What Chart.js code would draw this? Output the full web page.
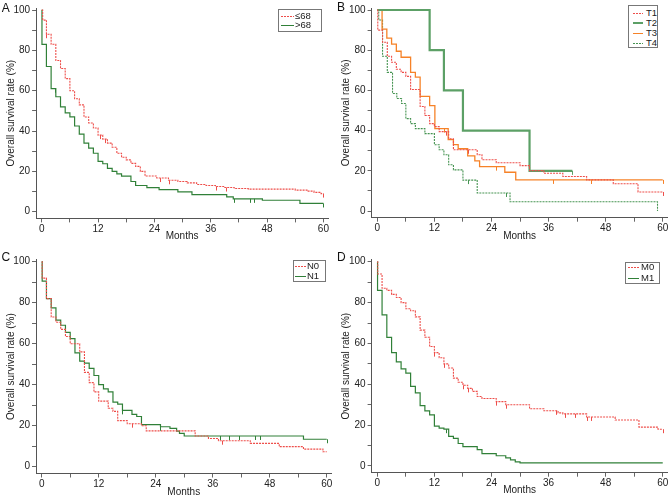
<!DOCTYPE html>
<html><head><meta charset="utf-8">
<script src="https://cdn.jsdelivr.net/npm/chart.js@4/dist/chart.umd.min.js"></script>
<style>
html,body{margin:0;padding:0;background:#fff;overflow:hidden;width:669px;height:496px;position:relative;}
canvas{position:absolute;}
.letter{position:absolute;font:12px "Liberation Sans",Arial,sans-serif;color:#111;line-height:12px;}
.lg{position:absolute;border:1px solid #777;background:#fff;font:9.5px "Liberation Sans",Arial,sans-serif;color:#222;box-sizing:border-box;}
.lg .smp{position:absolute;height:1px;}
.lg .txt{position:absolute;line-height:10px;white-space:nowrap;}
</style></head><body>
<script>
// ---------- axis ticks ----------
const monthTicks = [0,6,12,18,24,30,36,42,48,54,60];
const monthLabels = ['0','','12','','24','','36','','48','','60'];
const rateTicks = [0,10,20,30,40,50,60,70,80,90,100];
const rateLabels = ['0','','20','','40','','60','','80','','100'];
const xTitle = 'Months';
const yTitle = 'Overall survival rate (%)';
const panelLetters = ['A','B','C','D'];

// ---------- Panel A: age ----------
const A_names = ['≤68','>68'];
const A_le68_t = [0,0.2,1,2,3,4,5,6,7,8,9,10,11,12,13,14,15,16,17,18,19,20,21,22,24.5,27,29,31,33,35,37,39,41,44,54,56.5,58,59.5,60];
const A_le68_s = [100,95,88,83,75,71,66,60,56,53,47,44,41.5,38,36,34,32,29,27,25.7,24,22.5,20,17.7,16.7,15.6,15,14.3,13.5,13,12.5,12,11.5,11.2,10.7,10.2,9.6,9,9];
const A_le68_c = [1,12.5,13.5,25.2,27.2,37.1,39.3,60];
const A_gt68_t = [0,0.05,1,2,3,4,5,6,7,8,9,10,11,12,13,14,15,16,17,19,20,22.4,25,29,32,39.4,40.8,47,55,60];
const A_gt68_s = [100,83,72,61,57,52,49,47,42.5,38.5,34,31.5,29,25,23.8,21.5,20,18.8,17.7,15,13,12,11,9.8,8.5,7.4,6.4,5.7,4.1,4.1];
const A_gt68_c = [2.8,41,44.4,45.3,60];

// ---------- Panel B: T stage ----------
const B_names = ['T1','T2','T3','T4'];
const B_T1_t = [0,0.1,1.1,2.1,3,4,5,6,7,9,10,11,12,13,15,16,21,22,25,30,32,35,39,44,49.6,54.8,60];
const B_T1_s = [100,90,84,77,74,70.5,69,67,60.5,52,47.5,43.5,42,39.5,36,30.5,28,25.5,24,22.6,20.1,18.8,17.2,15.5,13.6,9.5,9.5];
const B_T1_c = [14.5,19,45,60];
const B_T2_t = [0,11,14,18,32,41];
const B_T2_s = [100,80,60,40,20,20];
const B_T2_c = [41];
const B_T3_t = [0,1,2,3,4,5,7,8,9,11,12.1,14.9,16,17,19,20.5,21.5,26.8,29.1,60];
const B_T3_s = [100,90.5,86,83,79.5,76.5,69,66.6,57,52.4,41,35.5,33,31,27.5,25,22.1,19.3,15.5,15.5];
const B_T3_c = [14,25,37,45,60];
const B_T4_t = [0,0.3,1.1,2.1,3.2,4.1,5.1,6,7,8,10,12,13,14,15,16,18,21,27.9,58.9];
const B_T4_s = [100,95,77,69,58.5,56,53.5,46,43.5,41,38.5,33,30.5,28,23,20.5,15.4,9,4.6,0];
const B_T4_c = [19,27];

// ---------- Panel C: N stage ----------
const C_names = ['N0','N1'];
const C_N0_t = [0,0.1,1,2,3,4,5,6,8,9,10,11,12,14,15,16,18,21,22,32.3,35.1,37.2,43.9,50,55.1,59.2,60];
const C_N0_s = [100,92,82,73,70.5,67,63.5,60,56,46,41,36.5,32,28.5,27,22.5,21,20,17.5,15,13.8,12.7,11.4,9.8,8.6,7.3,7.3];
const C_N0_c = [19,38];
const C_N1_t = [0,0.1,1,2,3,4,5,6,7,8,9,10,11,12,13,14,15,16,17,19,20,21,25,27,28.4,29,30,55.1,60];
const C_N1_s = [100,90.5,82,77.5,71.5,69,65.5,62.5,55.5,51.5,50.5,48,44.5,40,38,36.5,31.5,30.5,27.5,25.5,24.5,20.5,19.5,18.7,17.4,16.3,15,13.4,13.4];
const C_N1_c = [17,25,37.5,39.5,41.5,45,46,60];

// ---------- Panel D: M stage ----------
const D_names = ['M0','M1'];
const D_M0_t = [0,0.1,1,2,3,4,5,6,7,8,9,10,11,12,13,14,15,16,17,18,19,20,21,22,25,27,32,35,38,39,44,50,55,59,60];
const D_M0_s = [100,94,87,86,84,82.5,80,77,76,73,66.5,63,58.5,55.5,53,50,48,43,41,39.5,38,36.5,34,33,31.5,30,28,27,26,25.5,24,22.5,19,18,18];
const D_M0_c = [12,14,18,19,25,27,37.5,39.5,41.5,44,45,60];
const D_M1_t = [0,0.05,1,2,3,4,5,6,7,8,9,10,11,12,13,14,15,16,17,18,21,22,25,27,28,29,30,60];
const D_M1_s = [100,86,74,63,55.5,51,47.5,45.5,39,35.8,29.5,27,25,19.5,18.5,18,14.5,13.5,11,9.5,8,6,5,4,3,2,1.5,1.5];
const D_M1_c = [14.5];

// ---------- styles ----------
const RED = 'rgb(238,78,74)', GREEN = 'rgb(48,128,56)', GREEN2 = 'rgb(92,160,102)', ORANGE = 'rgb(246,130,40)', GREEN3 = 'rgb(70,148,82)';
const DOT = [2,1];
const FONT = {family:'"Liberation Sans", Arial, sans-serif', size:10};

function series(label, t, s, c, color, dash, width){
  return {label, t, s, c, color, dash, width};
}

const panels = [
  {letter:panelLetters[0], left:0, top:0, w:335, h:248, area:{l:36.1, r:328.1, t:6.3, b:218.4}, titlePad:5.3,
   letterPos:[1.7,1.6], legend:{x:278, y:9, w:44, h:23, sx:281, sw:13, tx:295, rows:[15.5,25]},
   series:[series(A_names[0],A_le68_t,A_le68_s,A_le68_c,RED,DOT,1.1), series(A_names[1],A_gt68_t,A_gt68_s,A_gt68_c,GREEN,[],1.2)]},
  {letter:panelLetters[1], left:335, top:0, w:345, h:248, area:{l:36.6, r:332.5, t:5.3, b:217.7}, titlePad:5.3,
   letterPos:[337,1.2], legend:{x:628, y:5, w:30, h:43, sx:632.5, sw:10.5, tx:646, rows:[13.3,23,33,43]},
   series:[series(B_names[0],B_T1_t,B_T1_s,B_T1_c,RED,DOT,1.1), series(B_names[1],B_T2_t,B_T2_s,B_T2_c,GREEN2,[],2.2),
           series(B_names[2],B_T3_t,B_T3_s,B_T3_c,ORANGE,[],1.3), series(B_names[3],B_T4_t,B_T4_s,B_T4_c,GREEN3,DOT,1.1)]},
  {letter:panelLetters[2], left:0, top:248, w:335, h:256, area:{l:36, r:331.5, t:11.65, b:225.5}, titlePad:5.7,
   letterPos:[1.5,251.4], legend:{x:292.5, y:260, w:33, h:22, sx:295, sw:10.5, tx:307, rows:[265.5,275.5]},
   series:[series(C_names[0],C_N0_t,C_N0_s,C_N0_c,RED,DOT,1.1), series(C_names[1],C_N1_t,C_N1_s,C_N1_c,GREEN,[],1.2)]},
  {letter:panelLetters[3], left:335, top:248, w:345, h:256, area:{l:36.6, r:332.5, t:11.7, b:224.7}, titlePad:8,
   letterPos:[337,251.4], legend:{x:625, y:261.5, w:35, h:22, sx:628, sw:11, tx:641, rows:[267,278]},
   series:[series(D_names[0],D_M0_t,D_M0_s,D_M0_c,RED,DOT,1.1), series(D_names[1],D_M1_t,D_M1_s,D_M1_c,GREEN,[],1.2)]}
];

function stepValue(t, s, x){
  let v = s[0];
  for (let i = 0; i < t.length; i++) if (t[i] <= x) v = s[i];
  return v;
}

const censorPlugin = {
  id:'censor',
  afterDatasetsDraw(chart){
    const ctx = chart.ctx, xs = chart.scales.x, ys = chart.scales.y;
    ctx.save();
    chart.data.datasets.forEach(ds => {
      ctx.strokeStyle = ds.borderColor; ctx.lineWidth = 1; ctx.setLineDash([]);
      (ds.censor || []).forEach(cx => {
        const px = Math.round(xs.getPixelForValue(cx)) + 0.5;
        const py = ys.getPixelForValue(stepValue(ds.tArr, ds.sArr, cx));
        ctx.beginPath(); ctx.moveTo(px, py); ctx.lineTo(px, py + 4); ctx.stroke();
      });
    });
    ctx.restore();
  }
};

panels.forEach(p => {
  const cv = document.createElement('canvas');
  cv.width = p.w; cv.height = p.h;
  cv.style.left = p.left + 'px'; cv.style.top = p.top + 'px';
  document.body.appendChild(cv);
  const a = p.area;
  new Chart(cv, {
    type:'line',
    data:{datasets: p.series.map(sr => ({
      label: sr.label,
      data: sr.t.map((x,i) => ({x, y: sr.s[i]})),
      tArr: sr.t, sArr: sr.s, censor: sr.c,
      stepped: 'before', borderColor: sr.color, borderWidth: sr.width, borderDash: sr.dash,
      pointRadius: 0, fill: false, tension: 0
    }))},
    options:{
      responsive:false, animation:false, devicePixelRatio:1,
      layout:{padding:{left:0, top:a.t, right:p.w - a.r, bottom:0}},
      plugins:{legend:{display:false}, tooltip:{enabled:false}},
      scales:{
        x:{type:'linear', min:-1.2, max:61,
          afterBuildTicks(s){ s.ticks = monthTicks.map(v => ({value:v})); },
          afterFit(s){ s.height = p.h - a.b; },
          ticks:{callback:(v,i) => monthLabels[i], font:FONT, color:'#222', padding:1, autoSkip:false, maxRotation:0},
          grid:{drawOnChartArea:false, drawTicks:true, tickLength:4, color:'#666'},
          border:{display:true, color:'#555', width:1},
          title:{display:true, text:xTitle, font:FONT, color:'#222', padding:{top:0, bottom:p.titlePad}}
        },
        y:{type:'linear', min:-3.3, max:101,
          afterBuildTicks(s){ s.ticks = rateTicks.map(v => ({value:v})); },
          afterFit(s){ s.width = a.l; },
          ticks:{callback:(v,i) => rateLabels[i], font:FONT, color:'#222', padding:2, autoSkip:false},
          grid:{drawOnChartArea:false, drawTicks:true, tickLength:4, color:'#666'},
          border:{display:true, color:'#555', width:1},
          title:{display:true, text:yTitle, font:FONT, color:'#222', padding:{top:5.5, bottom:0}}
        }
      }
    },
    plugins:[censorPlugin]
  });

  // panel letter
  const L = document.createElement('div');
  L.className = 'letter'; L.textContent = p.letter;
  L.style.left = p.letterPos[0] + 'px'; L.style.top = p.letterPos[1] + 'px';
  document.body.appendChild(L);

  // legend box
  const g = p.legend;
  const box = document.createElement('div');
  box.className = 'lg';
  box.style.left = g.x + 'px'; box.style.top = g.y + 'px';
  box.style.width = g.w + 'px'; box.style.height = g.h + 'px';
  document.body.appendChild(box);
  p.series.forEach((sr, i) => {
    const cy = g.rows[i] - g.y - 1;
    const smp = document.createElement('div');
    smp.className = 'smp';
    smp.style.left = (g.sx - g.x - 1) + 'px'; smp.style.width = g.sw + 'px';
    smp.style.top = (cy - Math.floor(sr.width/2)) + 'px';
    smp.style.height = Math.max(1, Math.round(sr.width)) + 'px';
    smp.style.background = sr.dash.length ?
      `repeating-linear-gradient(to right, ${sr.color} 0 2px, transparent 2px 3px)` : sr.color;
    box.appendChild(smp);
    const tx = document.createElement('div');
    tx.className = 'txt'; tx.textContent = sr.label;
    tx.style.left = (g.tx - g.x - 1) + 'px'; tx.style.top = (cy - 5) + 'px';
    box.appendChild(tx);
  });
});
</script>
</body></html>
